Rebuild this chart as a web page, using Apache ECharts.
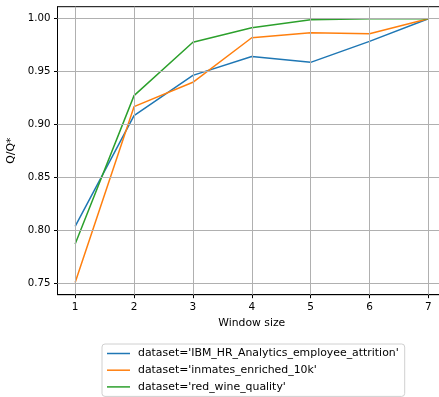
<!DOCTYPE html>
<html><head><meta charset="utf-8">
<script src="https://cdn.jsdelivr.net/npm/echarts@6/dist/echarts.min.js"></script>
<style>html,body{margin:0;padding:0;background:#fff}#c{width:439px;height:397px}</style>
</head><body><div id="c"></div>
<script>
const windowSizes = [1, 2, 3, 4, 5, 6, 7];
const seriesNames = [
  "dataset='IBM_HR_Analytics_employee_attrition'",
  "dataset='inmates_enriched_10k'",
  "dataset='red_wine_quality'"
];
const ibmValues = [0.804, 0.9085, 0.9465, 0.9644, 0.9588, 0.9786, 1.0];
const inmatesValues = [0.7512, 0.917, 0.940, 0.982, 0.9868, 0.9858, 1.0];
const wineValues = [0.7875, 0.9274, 0.9777, 0.9915, 0.999, 1.0, 1.0];
const xTicks = [1, 2, 3, 4, 5, 6, 7];
const yTicks = [0.75, 0.80, 0.85, 0.90, 0.95, 1.00];
const colors = ['#1f77b4', '#ff7f0e', '#2ca02c'];

const allValues = [ibmValues, inmatesValues, wineValues];
const font = 'DejaVu Sans';
const chart = echarts.init(document.getElementById('c'), null, {renderer: 'canvas'});

const lineSeries = allValues.map((vals, i) => ({
  name: seriesNames[i],
  type: 'line',
  data: windowSizes.map((x, j) => [x, vals[j]]),
  showSymbol: false,
  symbol: 'none',
  lineStyle: {color: colors[i], width: 1.5},
  itemStyle: {color: colors[i]},
  z: 3,
  animation: false
}));

const gridSeries = {
  type: 'line',
  data: [],
  silent: true,
  z: 1,
  animation: false,
  markLine: {
    silent: true,
    symbol: ['none', 'none'],
    label: {show: false},
    animation: false,
    lineStyle: {color: '#b0b0b0', width: 1, type: 'solid'},
    data: xTicks.map(v => ({xAxis: v})).concat(yTicks.map(v => ({yAxis: v})))
  }
};

chart.setOption({
  animation: false,
  backgroundColor: '#fff',
  textStyle: {fontFamily: font},
  grid: {left: 57.5, top: 6.7, width: 388.5, height: 288, outerBoundsMode: 'none', containLabel: false,
    show: true, borderColor: '#000', borderWidth: 1, backgroundColor: 'transparent', z: 5},
  xAxis: {
    type: 'value', min: 0.7, max: 7.3,
    name: 'Window size', nameLocation: 'middle', nameGap: 21,
    nameTextStyle: {fontFamily: font, fontSize: 10.8, color: '#000'},
    axisLine: {show: true, lineStyle: {color: '#000', width: 1}},
    axisTick: {show: true, customValues: xTicks, length: 3.5, lineStyle: {color: '#000'}},
    axisLabel: {customValues: xTicks, fontFamily: font, fontSize: 10.5, color: '#000', margin: 7},
    splitLine: {show: false}
  },
  yAxis: {
    type: 'value', min: 0.7396, max: 1.0113,
    name: 'Q/Q*', nameLocation: 'middle', nameGap: 37,
    nameTextStyle: {fontFamily: font, fontSize: 10.8, color: '#000'},
    axisLine: {show: true, lineStyle: {color: '#000', width: 1}},
    axisTick: {show: true, customValues: yTicks, length: 3.5, lineStyle: {color: '#000'}},
    axisLabel: {customValues: yTicks, fontFamily: font, fontSize: 10.2, color: '#000', margin: 7,
      formatter: v => v.toFixed(2)},
    splitLine: {show: false}
  },
  legend: {
    orient: 'vertical', left: 102, top: 344,
    data: seriesNames,
    icon: 'rect', itemWidth: 23, itemHeight: 1.5,
    itemGap: 3.7,
    padding: [3, 6, 3, 5],
    borderColor: '#d0d0d0', borderWidth: 1, borderRadius: 3,
    backgroundColor: '#fff',
    textStyle: {fontFamily: font, fontSize: 10.9, color: '#000', lineHeight: 13, padding: [0, 0, 0, 3]}
  },
  series: [gridSeries].concat(lineSeries)
});
</script></body></html>
